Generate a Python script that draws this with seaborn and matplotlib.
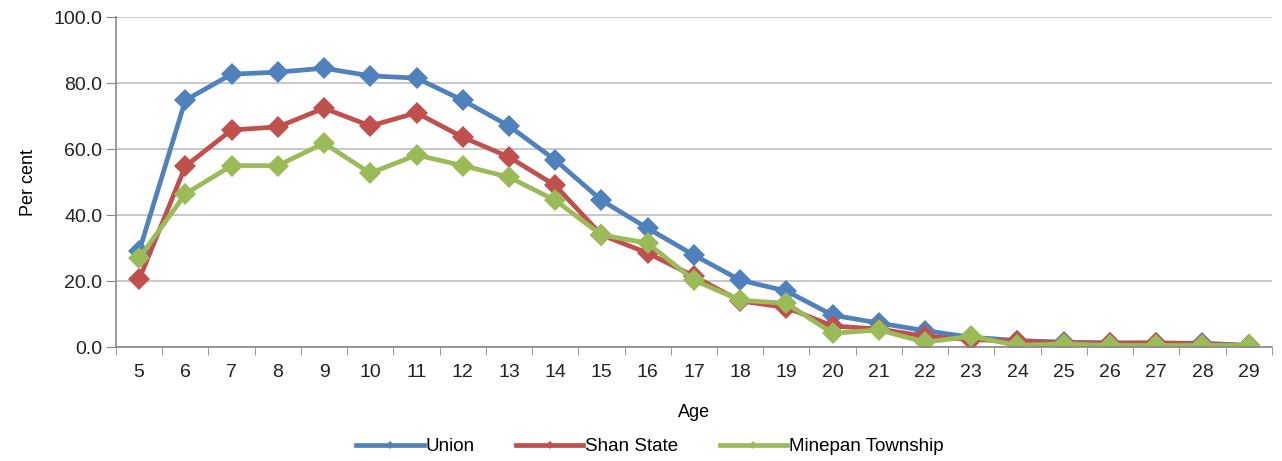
import matplotlib.pyplot as plt
import seaborn as sns
import pandas as pd
from matplotlib.ticker import MultipleLocator, FixedLocator

# Werte
ages = list(range(5, 30))
union = [29.0, 74.8, 82.7, 83.3, 84.5, 82.2, 81.5, 74.8, 67.0, 56.7, 44.5, 36.0,
         27.9, 20.3, 17.0, 9.7, 7.3, 5.0, 3.0, 2.0, 1.5, 1.2, 1.2, 1.2, 0.5]
shan = [20.5, 54.8, 65.8, 66.7, 72.4, 67.0, 71.0, 63.6, 57.6, 49.0, 34.0, 28.5,
        21.5, 14.0, 12.0, 6.4, 5.5, 3.3, 2.3, 1.8, 1.3, 1.3, 1.3, 1.0, 0.5]
minepan = [27.0, 46.4, 55.0, 55.0, 61.8, 52.7, 58.2, 55.0, 51.5, 44.5, 34.0, 31.5,
           20.3, 14.2, 13.3, 4.2, 5.2, 1.5, 3.3, 0.5, 1.0, 0.5, 0.5, 0.5, 0.5]
series_names = ['Union', 'Shan State', 'Minepan Township']
colors = ['#4F81BD', '#C0504D', '#9BBB59']

df = pd.DataFrame({
    'Age': ages * 3,
    'Per cent': union + shan + minepan,
    'Area': [n for n in series_names for _ in ages],
})

plt.rcParams['font.family'] = ['Liberation Sans', 'DejaVu Sans']
fig, ax = plt.subplots(figsize=(12.82, 4.61), dpi=100)
fig.subplots_adjust(left=0.0905, right=0.992, top=0.963, bottom=0.247)

sns.lineplot(data=df, x='Age', y='Per cent', hue='Area', palette=colors,
             marker='D', markersize=11, markeredgewidth=0, linewidth=3.4,
             ax=ax, legend=True)

ax.set_xlim(4.5, 29.5)
ax.set_ylim(0, 100)
ax.yaxis.set_major_locator(MultipleLocator(20))
ax.set_yticklabels([f'{v:.1f}' for v in ax.get_yticks()], fontsize=14, color='#222222')
ax.set_xticks(ages)
ax.set_xticklabels([str(a) for a in ages], fontsize=14, color='#222222')
ax.xaxis.set_minor_locator(FixedLocator([a + 0.5 for a in range(4, 30)]))
ax.tick_params(axis='x', which='major', length=0, pad=12)
ax.tick_params(axis='x', which='minor', length=6, color='#888888')
ax.tick_params(axis='y', length=7, color='#888888', pad=3)

ax.grid(axis='y', color='#BFBFBF', linewidth=1.2)
ax.set_axisbelow(True)
for s in ['top', 'right']:
    ax.spines[s].set_visible(False)
for s in ['left', 'bottom']:
    ax.spines[s].set_color('#888888')
    ax.spines[s].set_linewidth(1.2)

ax.set_xlabel('Age', fontsize=13, labelpad=17)
ax.set_ylabel('Per cent', fontsize=13, labelpad=12)

handles, labels = ax.get_legend_handles_labels()
ax.legend(handles, labels, loc='upper center', bbox_to_anchor=(0.462, -0.225),
          ncol=3, frameon=False, fontsize=13.5, handlelength=3.6, columnspacing=2.2,
          handletextpad=0.1, markerscale=0.4)

plt.savefig('out.png', dpi=100)
